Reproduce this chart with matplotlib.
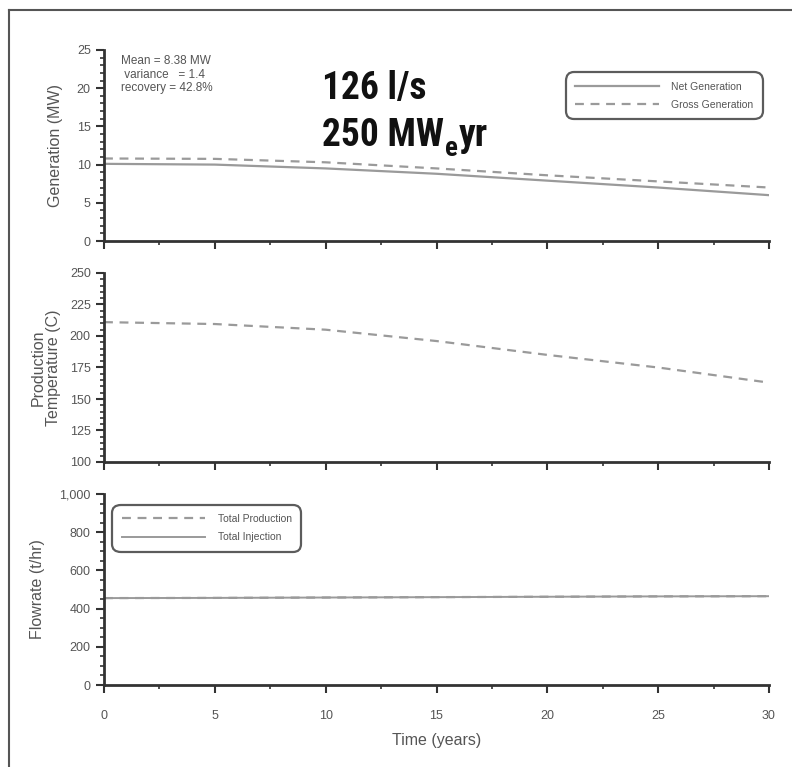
import matplotlib
matplotlib.use('Agg')
import matplotlib.pyplot as plt
from matplotlib import font_manager
from matplotlib.lines import Line2D
from matplotlib.ticker import MultipleLocator, FuncFormatter

# values
years = [0, 5, 10, 15, 20, 25, 30]
net_generation = [10.1, 10.0, 9.5, 8.8, 7.9, 7.0, 6.0]
gross_generation = [10.8, 10.75, 10.3, 9.5, 8.6, 7.8, 7.0]
production_temp = [211, 209.5, 205, 196, 185, 175, 163]
total_production = [455, 456, 458, 460, 462, 464, 465]
total_injection = [455, 456, 458, 460, 462, 464, 465]

stats_text = 'Mean = 8.38 MW\n variance   = 1.4\nrecovery = 42.8%'

# look for an Arial-Narrow-like bold face for the big label
fonts = font_manager.fontManager.ttflist


def weight_num(w):
    if isinstance(w, int):
        return w
    return font_manager.weight_dict.get(w, 400)


bold_names = {f.name for f in fonts if weight_num(f.weight) >= 600}
big_family, big_stretch, big_size = 'Liberation Sans', 'normal', 23
picked = False
for c in ['Liberation Sans Narrow', 'Arial Narrow', 'Roboto Condensed',
          'Noto Sans Condensed', 'Open Sans Condensed']:
    if c in bold_names:
        big_family, big_size, picked = c, 27, True
        break
if not picked:
    for f in fonts:
        if (f.name in ('Roboto', 'Noto Sans', 'Open Sans', 'Inter', 'Lato')
                and f.stretch in ('condensed', 'semi-condensed', 'extra-condensed')
                and weight_num(f.weight) >= 600):
            big_family, big_stretch, big_size, picked = f.name, f.stretch, 26, True
            break
if not picked and 'DejaVu Sans Condensed' in bold_names:
    big_family, big_size = 'DejaVu Sans Condensed', 24

plt.rcParams['font.family'] = ['Liberation Sans', 'DejaVu Sans']

line_col = '#9a9a9a'
text_col = '#555555'
axis_col = '#333333'

fig = plt.figure(figsize=(7.92, 7.67), dpi=100)

W, H = 792.0, 767.0
left = 104 / W
width = (769 - 104) / W


def make_ax(top_px, bot_px):
    ax = fig.add_axes([left, 1 - bot_px / H, width, (bot_px - top_px) / H])
    ax.spines['top'].set_visible(False)
    ax.spines['right'].set_visible(False)
    for s in ('left', 'bottom'):
        ax.spines[s].set_linewidth(2)
        ax.spines[s].set_color(axis_col)
    ax.set_xlim(0, 30)
    ax.xaxis.set_major_locator(MultipleLocator(5))
    ax.xaxis.set_minor_locator(MultipleLocator(2.5))
    ax.tick_params(which='major', direction='out', length=6, width=1.5,
                   color=axis_col, labelcolor=text_col, labelsize=9)
    ax.tick_params(which='minor', direction='out', length=3, width=1.2,
                   color=axis_col)
    return ax


def style_legend(leg):
    leg.get_frame().set_edgecolor(axis_col)
    leg.get_frame().set_linewidth(1.6)
    leg.get_frame().set_boxstyle('round,pad=0.2,rounding_size=0.8')


ax1 = make_ax(50, 241)
ax2 = make_ax(273, 462)
ax3 = make_ax(494, 685)

# generation
ax1.plot(years, net_generation, color=line_col, lw=1.6, label='Net Generation')
ax1.plot(years, gross_generation, color=line_col, lw=1.6, ls=(0, (4, 3)),
         label='Gross Generation')
ax1.set_ylim(0, 25)
ax1.yaxis.set_major_locator(MultipleLocator(5))
ax1.yaxis.set_minor_locator(MultipleLocator(1))
ax1.tick_params(axis='x', labelbottom=False)
ax1.set_ylabel('Generation (MW)', color=text_col, fontsize=11.5)
ax1.text(0.025, 0.975, stats_text, transform=ax1.transAxes, ha='left', va='top',
         fontsize=8.5, color=text_col, linespacing=1.2)
leg1 = ax1.legend(loc='upper right', bbox_to_anchor=(0.995, 0.9), fontsize=7.5,
                  frameon=True, fancybox=True, handlelength=8, borderpad=0.7,
                  labelspacing=0.8, handletextpad=1.2, labelcolor=text_col)
style_legend(leg1)

# big flow / energy label, subscript placed by hand
big = dict(fontweight='bold', family=[big_family, 'DejaVu Sans'],
           fontstretch=big_stretch, color='#111111')
fig.text(322 / W, 1 - 99 / H, '126 l/s', fontsize=big_size, va='baseline', **big)
t_mw = fig.text(322 / W, 1 - 146 / H, '250 MW', fontsize=big_size,
                va='baseline', **big)
fig.canvas.draw()
r = fig.canvas.get_renderer()
bb = t_mw.get_window_extent(r)
t_e = fig.text(bb.x1 / W + 1 / W, 1 - 156 / H, 'e', fontsize=big_size * 0.72,
               va='baseline', **big)
bb_e = t_e.get_window_extent(r)
fig.text(bb_e.x1 / W + 1 / W, 1 - 146 / H, 'yr', fontsize=big_size,
         va='baseline', **big)

# temperature
ax2.plot(years, production_temp, color=line_col, lw=1.6, ls=(0, (4, 3)))
ax2.set_ylim(100, 250)
ax2.yaxis.set_major_locator(MultipleLocator(25))
ax2.yaxis.set_minor_locator(MultipleLocator(5))
ax2.tick_params(axis='x', labelbottom=False)
ax2.set_ylabel('Production\nTemperature (C)', color=text_col, fontsize=11.5,
               linespacing=1.0)

# flowrate
ax3.plot(years, total_production, color=line_col, lw=1.6, ls=(0, (4, 3)),
         label='Total Production')
ax3.plot(years, total_injection, color=line_col, lw=1.4, label='Total Injection')
ax3.set_ylim(0, 1000)
ax3.yaxis.set_major_locator(MultipleLocator(200))
ax3.yaxis.set_minor_locator(MultipleLocator(50))
ax3.yaxis.set_major_formatter(FuncFormatter(lambda v, p: '{:,.0f}'.format(v)))
ax3.set_ylabel('Flowrate (t/hr)', color=text_col, fontsize=11.5)
ax3.set_xlabel('Time (years)', color=text_col, fontsize=11.5, labelpad=8)
ax3.tick_params(axis='x', pad=12)
leg3 = ax3.legend(loc='upper left', bbox_to_anchor=(0.008, 0.96), fontsize=7.5,
                  frameon=True, fancybox=True, handlelength=8, borderpad=0.7,
                  labelspacing=0.8, handletextpad=1.2, labelcolor=text_col)
style_legend(leg3)

ax1.yaxis.set_label_coords(-0.062, 0.5)
ax2.yaxis.set_label_coords(-0.065, 0.5)
ax3.yaxis.set_label_coords(-0.088, 0.5)

# frame lines at left and top of the picture
fig.add_artist(Line2D([9 / W, 9 / W], [0, 1 - 10 / H], transform=fig.transFigure,
                      color='#555555', lw=1.5))
fig.add_artist(Line2D([9 / W, 1], [1 - 10 / H, 1 - 10 / H], transform=fig.transFigure,
                      color='#555555', lw=1.5))

fig.savefig('out.png', dpi=100, facecolor='white')
